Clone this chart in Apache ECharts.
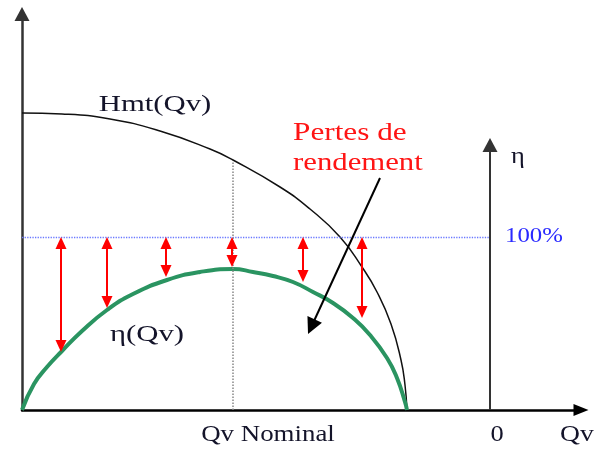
<!DOCTYPE html>
<html>
<head>
<meta charset="utf-8">
<script src="https://cdn.jsdelivr.net/npm/echarts@6/dist/echarts.min.js"></script>
<style>
html, body { margin: 0; padding: 0; background: #fff; }
#chart { width: 595px; height: 450px; }
</style>
</head>
<body>
<div id="chart"></div>
<script>
// schematic units: Qv along x, head / efficiency along y
var hmtCurve = [[0, 297], [40, 296], [88, 291], [138, 279], [188, 261], [211, 250], [258, 223], [288, 201],
    [318, 173], [340, 143], [355, 118], [369, 86], [379, 50], [383, 25], [385, 0]];
var etaCurve = [[0, 0], [12, 26], [25, 43], [40, 59], [60, 79], [85, 100], [111, 116], [145, 130], [178, 138],
    [211, 141], [231, 138], [251, 134], [271, 128], [291, 118], [311, 107], [331, 92], [348, 75], [365, 52],
    [375, 32], [383, 8], [385, 0]];
var qvNominal = 211;
var hmtAtNominal = 249;
var eta100 = 173;
var etaAxisQv = 468;
var etaAxisTop = 272;
var lossQv = [39, 85, 144, 210, 281, 340];
var lossEta = [58, 102, 133, 143, 128, 92];
var pointerFrom = [358, 232];
var pointerTo = [286, 76];

var serif = "'Liberation Serif', 'Times New Roman', Times, serif";
var labels = [
    { text: 'Hmt(Qv)', at: [133, 305], align: 'center', color: '#14142a', size: 24, sx: 1.28 },
    { text: 'Pertes de', at: [271, 277], align: 'left', color: '#ff1414', size: 25, sx: 1.25 },
    { text: 'rendement', at: [271, 247], align: 'left', color: '#ff1414', size: 25, sx: 1.23 },
    { text: 'η(Qv)', at: [125, 75], align: 'center', color: '#14142a', size: 24, sx: 1.28 },
    { text: 'Qv Nominal', at: [246, -25], align: 'center', color: '#14142a', size: 24, sx: 1.12 },
    { text: '0', at: [475, -25], align: 'center', color: '#14142a', size: 24, sx: 1.1 },
    { text: 'Qv', at: [538, -25], align: 'left', color: '#14142a', size: 24, sx: 1.15 },
    { text: 'η', at: [496, 253], align: 'center', color: '#14142a', size: 24, sx: 1.1 },
    { text: '100%', at: [483, 174], align: 'left', color: '#2a2aff', size: 21, sx: 1.18 }
];

var headInset = 6;
var lossArrows = lossQv.map(function (q, i) {
    return [
        { coord: [q, eta100 - headInset] },
        { coord: [q, lossEta[i] + headInset] }
    ];
});

// pull the pointer end back so the triangle tip lands on the target
var dx = pointerTo[0] - pointerFrom[0], dy = pointerTo[1] - pointerFrom[1];
var len = Math.sqrt(dx * dx + dy * dy);
var pointerEnd = [pointerTo[0] - 8 * dx / len, pointerTo[1] - 8 * dy / len];

var chart = echarts.init(document.getElementById('chart'));
var option = {
    animation: false,
    grid: { left: 22, top: 14, width: 559, height: 396 },
    xAxis: {
        type: 'value', min: 0, max: 559,
        axisLine: { show: true, symbol: ['none', 'triangle'], symbolSize: [12, 15], lineStyle: { color: '#000', width: 2.5 } },
        axisTick: { show: false }, axisLabel: { show: false }, splitLine: { show: false }
    },
    yAxis: {
        type: 'value', min: 0, max: 396,
        axisLine: { show: true, symbol: ['none', 'triangle'], symbolSize: [15, 14], lineStyle: { color: '#333', width: 2.5 } },
        axisTick: { show: false }, axisLabel: { show: false }, splitLine: { show: false }
    },
    series: [
        {
            name: 'guides', type: 'line', data: [], silent: true,
            markLine: {
                silent: true, symbol: 'none', label: { show: false },
                data: [
                    [{ coord: [0, eta100] }, { coord: [etaAxisQv, eta100] }],
                    [{ coord: [qvNominal, 0], lineStyle: { color: '#888', type: 'dotted', width: 1.5 } },
                     { coord: [qvNominal, hmtAtNominal] }]
                ],
                lineStyle: { color: '#6a78ff', type: 'dotted', width: 1.3 }
            }
        },
        {
            name: 'Hmt(Qv)', type: 'line', data: hmtCurve, smooth: 0.5, showSymbol: false, silent: true,
            lineStyle: { color: '#111', width: 1.5 }
        },
        {
            name: 'η(Qv)', type: 'line', data: etaCurve, smooth: 0.5, showSymbol: false, silent: true,
            lineStyle: { color: '#2a9461', width: 4 }
        },
        {
            name: 'eta axis', type: 'line', data: [], silent: true,
            markLine: {
                silent: true, symbol: ['none', 'triangle'], symbolSize: [15, 14], label: { show: false },
                data: [[{ coord: [etaAxisQv, 0] }, { coord: [etaAxisQv, etaAxisTop - 7] }]],
                lineStyle: { color: '#333', type: 'solid', width: 2 }
            }
        },
        {
            name: 'pertes', type: 'line', data: [], silent: true,
            markLine: {
                silent: true, symbol: ['triangle', 'triangle'], symbolSize: [11, 12], label: { show: false },
                data: lossArrows,
                lineStyle: { color: '#ff0000', type: 'solid', width: 2 }
            }
        },
        {
            name: 'pointer', type: 'line', data: [], silent: true,
            markLine: {
                silent: true, symbol: ['none', 'triangle'], symbolSize: [16, 16], label: { show: false },
                data: [[{ coord: pointerFrom }, { coord: pointerEnd }]],
                lineStyle: { color: '#000', type: 'solid', width: 2 }
            }
        }
    ]
};
chart.setOption(option);

chart.setOption({
    graphic: labels.map(function (l) {
        var p = chart.convertToPixel({ gridIndex: 0 }, l.at);
        return {
            type: 'text', x: p[0], y: p[1], scaleX: l.sx, silent: true,
            style: {
                text: l.text, fill: l.color, align: l.align, verticalAlign: 'middle',
                fontFamily: serif, fontSize: l.size
            }
        };
    })
});
</script>
</body>
</html>
